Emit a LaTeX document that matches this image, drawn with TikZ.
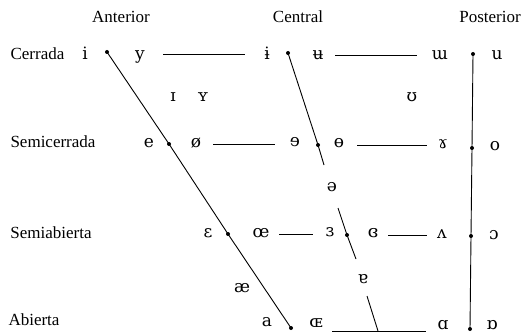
\documentclass[tikz,border=0pt]{standalone}
\usepackage{fontspec}
\setmainfont{Liberation Serif}
\newfontfamily\ipafont{DejaVu Serif}
\begin{document}
\begin{tikzpicture}[x=1pt,y=-1pt,
  lbl/.style={font=\fontsize{17}{19}\selectfont, inner sep=0pt, anchor=mid},
  ipa/.style={font=\ipafont\fontsize{17}{19}\selectfont, inner sep=0pt, anchor=mid},
  dotn/.style={circle, fill=black, inner sep=0pt, minimum size=4pt},
  chart/.style={line width=0.9pt},
  hl/.style={line width=0.9pt}]
\useasboundingbox (0,0) rectangle (521,334);
% headers
\node[lbl] (hA) at (121,20) {Anterior};
\node[lbl] (hC) at (298,20) {Central};
\node[lbl] (hP) at (490,20) {Posterior};
% row labels
\node[lbl] (rC) at (37.5,57) {Cerrada};
\node[lbl] (rSC) at (53,145) {Semicerrada};
\node[lbl] (rSA) at (51,236) {Semiabierta};
\node[lbl] (rA) at (34,323) {Abierta};
% symbols
\node[ipa] (s-i) at (85,57) {i};
\node[ipa] (s-y) at (140,57) {y};
\node[ipa] (s-ib) at (267,57) {ɨ};
\node[ipa] (s-ub) at (318,57) {ʉ};
\node[ipa] (s-mw) at (440,57) {ɯ};
\node[ipa] (s-u) at (497,57) {u};
\node[ipa] (s-I) at (173,99) {ɪ};
\node[ipa] (s-Y) at (203,99) {ʏ};
\node[ipa] (s-U) at (412,99) {ʊ};
\node[ipa] (s-e) at (149,145) {e};
\node[ipa] (s-oe) at (196,145) {ø};
\node[ipa] (s-er) at (295,144) {ɘ};
\node[ipa] (s-ob) at (339,145) {ɵ};
\node[ipa] (s-ram) at (443,146) {ɤ};
\node[ipa] (s-o) at (495,148) {o};
\node[ipa] (s-schwa) at (332,189) {ə};
\node[ipa] (s-eps) at (208,235) {ɛ};
\node[ipa] (s-oel) at (261,235) {œ};
\node[ipa] (s-reps) at (330,234) {ɜ};
\node[ipa] (s-cleps) at (373,235) {ɞ};
\node[ipa] (s-v) at (442,236) {ʌ};
\node[ipa] (s-oo) at (494,237) {ɔ};
\node[ipa] (s-ae) at (242,290) {æ};
\node[ipa] (s-ta) at (363,281) {ɐ};
\node[ipa] (s-a) at (267,324) {a};
\node[ipa] (s-OE) at (316,325) {ɶ};
\node[ipa] (s-aa) at (443,327) {ɑ};
\node[ipa] (s-ra) at (492,327) {ɒ};
% dots
\node[dotn] (f1) at (107,52) {};
\node[dotn] (f2) at (169,144) {};
\node[dotn] (f3) at (228,234) {};
\node[dotn] (f4) at (291,328) {};
\node[dotn] (c1) at (288,53) {};
\node[dotn] (c2) at (318,145) {};
\node[dotn] (c3) at (347,235) {};
\node[dotn] (b1) at (473,54) {};
\node[dotn] (b2) at (472,148) {};
\node[dotn] (b3) at (471,236) {};
\node[dotn] (b4) at (470,329) {};
% gap coordinates on central line
\coordinate (g1) at (324,165);
\coordinate (g2) at (338,208);
\coordinate (g3) at (356,259);
\coordinate (g4) at (367,296);
\coordinate (cend) at (378,331);
% chart lines
\draw[chart] (f1.center) -- (f2.center) -- (f3.center) -- (f4.center);
\draw[chart] (b1.center) -- (b2.center) -- (b3.center) -- (b4.center);
\draw[chart] (c1.center) -- (c2.center) -- (g1);
\draw[chart] (g2) -- (c3.center) -- (g3);
\draw[chart] (g4) -- (cend);
% horizontal lines
\coordinate (h1a) at (163,54); \coordinate (h1b) at (245,54);
\coordinate (h2a) at (335,55); \coordinate (h2b) at (417,55);
\coordinate (h3a) at (213,144); \coordinate (h3b) at (275,144);
\coordinate (h4a) at (357,145); \coordinate (h4b) at (427,145);
\coordinate (h5a) at (279,234); \coordinate (h5b) at (313,234);
\coordinate (h6a) at (388,235); \coordinate (h6b) at (427,235);
\coordinate (h7a) at (332,331); \coordinate (h7b) at (426,331);
\draw[hl] (h1a) -- (h1b);
\draw[hl] (h2a) -- (h2b);
\draw[hl] (h3a) -- (h3b);
\draw[hl] (h4a) -- (h4b);
\draw[hl] (h5a) -- (h5b);
\draw[hl] (h6a) -- (h6b);
\draw[hl] (h7a) -- (h7b);
\end{tikzpicture}
\end{document}
